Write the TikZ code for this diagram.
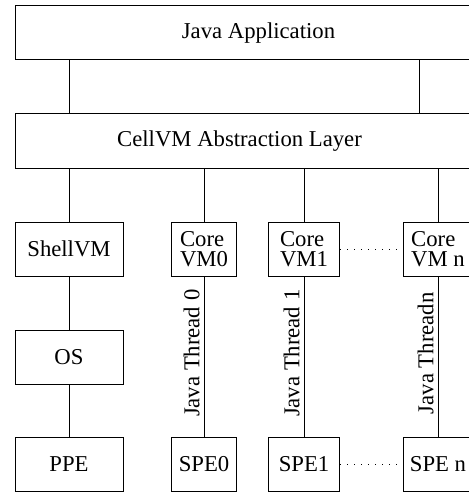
\documentclass[tikz,border=0pt]{standalone}
\usepackage{fontspec}
\setmainfont{Liberation Serif}
\usetikzlibrary{arrows}

\begin{document}
\begin{tikzpicture}[x=0.5pt,y=-0.5pt,line width=0.5pt,
  font=\fontsize{11.35}{9.8}\selectfont,
  box/.style={rectangle,draw=black,fill=white,minimum height=27pt,inner sep=0pt},
  wide/.style={box,minimum width=243.5pt},
  side/.style={box,minimum width=54pt},
  core/.style={box,align=left},
  thread/.style={pos=0.52,above,sloped,inner sep=2pt},
  link/.style={-,line width=0.5pt},
  peer/.style={-,line width=0.5pt,dash pattern=on 0.5pt off 3pt}]
\useasboundingbox (0,0) rectangle (469,492);
\clip (0,0) rectangle (469,492);

\node[wide] (app) at (258.5,33){Java Application};
\node[wide,label={[xshift=-9.5pt]center:CellVM Abstraction Layer}] (layer) at (258.5,141){};
\coordinate (rlink) at (419,87);

\node[side] (shell) at (69,249){ShellVM};
\node[side] (os) at (69,357){OS};
\node[side] (ppe) at (69,464){PPE};

\node[core,minimum width=32.5pt] (vm0) at (204,249){Core\\VM0};
\node[core,minimum width=35.5pt] (vm1) at (304,249){Core\\VM1};
\node[core,minimum width=35pt] (vmn) at (438,249){Core\\VM n};

\node[box,minimum width=32.5pt] (spe0) at (204,464){SPE0};
\node[box,minimum width=35.5pt] (spe1) at (304,464){SPE1};
\node[box,minimum width=35pt] (spen) at (438,464){SPE n};

\draw[link] (app.south -| shell.north) to (layer.north -| shell.north);
\draw[link] (app.south -| rlink) to (layer.north -| rlink);
\draw[link] (layer.south -| shell.north) to (shell.north);
\draw[link] (layer.south -| vm0.north) to (vm0.north);
\draw[link] (layer.south -| vm1.north) to (vm1.north);
\draw[link] (layer.south -| vmn.north) to (vmn.north);
\draw[link] (shell) to (os);
\draw[link] (os) to (ppe);
\draw[link] (spe0) to node[thread]{Java Thread 0} (vm0);
\draw[link] (spe1) to node[thread]{Java Thread 1} (vm1);
\draw[link] (spen) to node[thread]{Java Threadn} (vmn);
\draw[peer] (vm1) to (vmn);
\draw[peer] (spe1) to (spen);

\end{tikzpicture}
\end{document}
